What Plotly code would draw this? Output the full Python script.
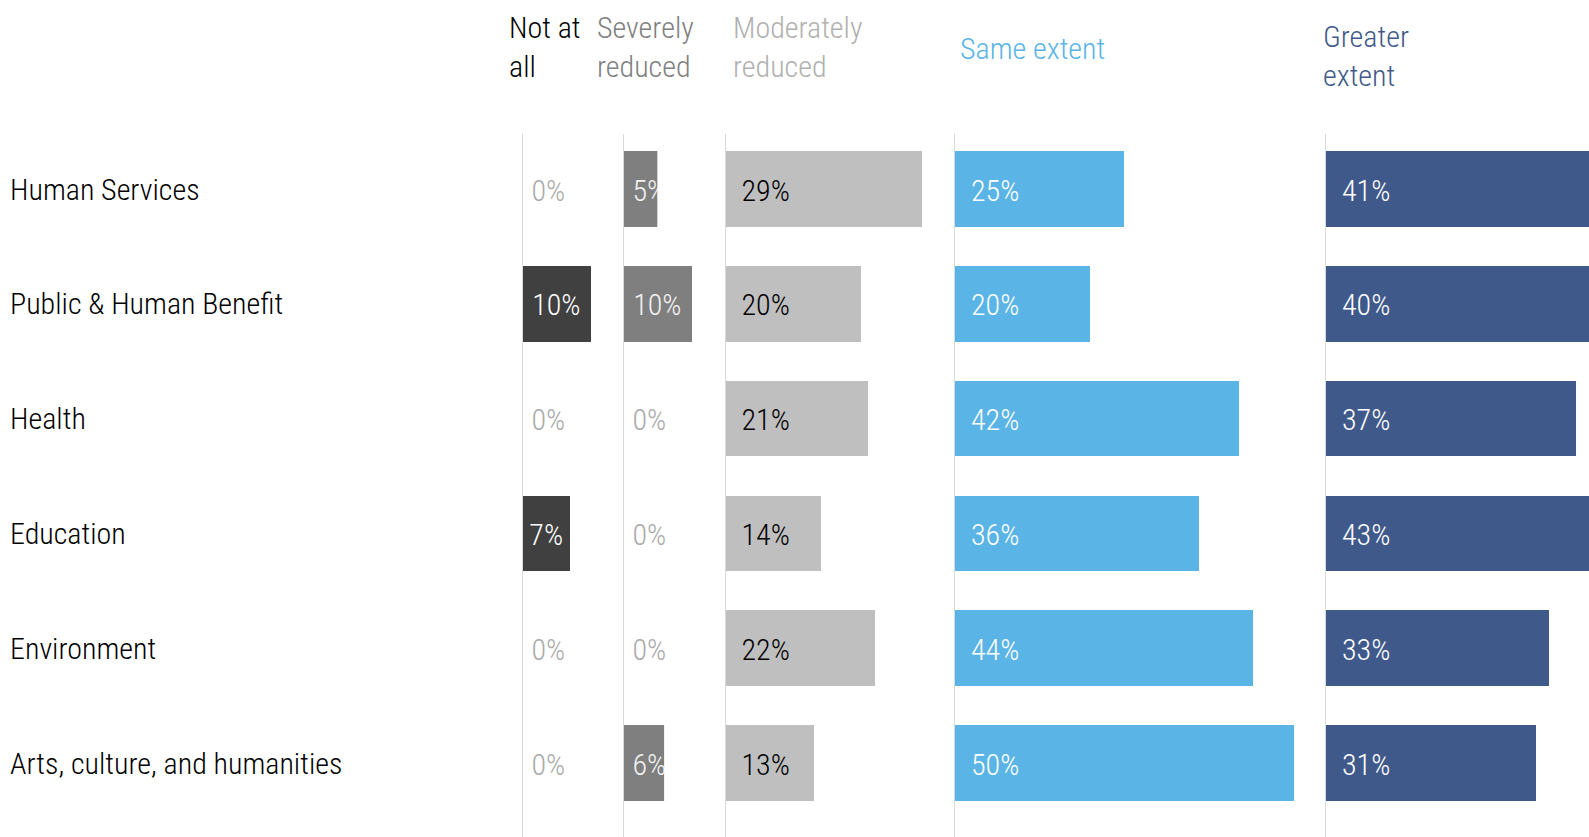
import plotly.graph_objects as go

# Survey: extent to which organisations could operate, by sector
categories = ["Human Services", "Public & Human Benefit", "Health",
              "Education", "Environment", "Arts, culture, and humanities"]

panel_names = ["Not at<br>all", "Severely<br>reduced", "Moderately<br>reduced",
               "Same extent", "Greater<br>extent"]

not_at_all = [0, 10, 0, 7, 0, 0]
severely_reduced = [5, 10, 0, 0, 0, 6]
moderately_reduced = [29, 20, 21, 14, 22, 13]
same_extent = [25, 20, 42, 36, 44, 50]
greater_extent = [41, 40, 37, 43, 33, 31]

series = [not_at_all, severely_reduced, moderately_reduced, same_extent, greater_extent]

# ---- styling -------------------------------------------------------------
W, H = 1589, 837
FONT = "Roboto Condensed, Liberation Sans Narrow, DejaVu Sans Condensed, sans-serif"
WEIGHT = 300
bar_colors = ["#404040", "#7f7f7f", "#bfbfbf", "#5ab4e5", "#3f5a8a"]
label_colors = ["#ffffff", "#f2f2f2", "#000000", "#ffffff", "#ffffff"]
header_colors = ["#000000", "#808080", "#b0b0b0", "#5ab4e5", "#3f5a8a"]
zero_color = "#aaaaaa"
axis_line = "#d9d9d9"

PX_PER_PCT = 6.77                      # shared bar scale across panels
panel_px = [522.5, 623.5, 725.5, 955, 1326]
panel_end_px = [p - 3 for p in panel_px[1:]] + [W]
label_style = ["center", "center", "left", "left", "left"]
label_pad_px = [9, 9, 16, 16, 16]
header_px = [(507, 47), (595, 47), (731, 47), (958, 48.6), (1321, 56)]

plot_top_px = 134
row0_px, row_step_px = 189.0, 114.8
y_top = (plot_top_px - row0_px) / row_step_px
y_bottom = (H - row0_px) / row_step_px
bar_width = 0.66
label_drop = 4 / row_step_px          # nudge value labels down to the bar's optical centre
FS = 30

fig = go.Figure()
shapes = []
annotations = []
layout = {}

for i, vals in enumerate(series):
    n = "" if i == 0 else str(i + 1)
    xa, ya = "x" + n, "y" + n
    xmax = (panel_end_px[i] - panel_px[i]) / PX_PER_PCT

    fig.add_trace(go.Bar(
        x=vals, y=list(range(len(categories))), orientation="h",
        width=bar_width, marker=dict(color=bar_colors[i], line=dict(width=0)),
        xaxis=xa, yaxis=ya, hoverinfo="skip", showlegend=False,
    ))

    # value labels
    pad = label_pad_px[i] / PX_PER_PCT
    xs, txt, pos, cols = [], [], [], []
    for r, v in enumerate(vals):
        txt.append(f"{v}%")
        if v == 0:
            xs.append(pad); pos.append("middle right"); cols.append(zero_color)
        elif label_style[i] == "center" and v >= 7:
            xs.append(v / 2); pos.append("middle center"); cols.append(label_colors[i])
        else:
            xs.append(pad); pos.append("middle right"); cols.append(label_colors[i])
            # labels wider than their bar are cut off at the bar's end
            if label_style[i] == "center":
                shapes.append(dict(type="rect", xref=xa, yref=ya, x0=v, x1=xmax,
                                   y0=r - bar_width / 2, y1=r + bar_width / 2,
                                   fillcolor="white", line=dict(width=0), layer="above"))
    fig.add_trace(go.Scatter(
        x=xs, y=[r + label_drop for r in range(len(categories))], mode="text", text=txt,
        textposition=pos, textfont=dict(family=FONT, size=FS, color=cols, weight=WEIGHT),
        xaxis=xa, yaxis=ya, hoverinfo="skip", showlegend=False, cliponaxis=True,
    ))

    x0p = panel_px[i] / W
    x1p = panel_end_px[i] / W
    layout["xaxis" + n] = dict(domain=[x0p, x1p], range=[0, xmax], anchor=ya,
                               visible=False, fixedrange=True)
    layout["yaxis" + n] = dict(domain=[0, 1 - plot_top_px / H], anchor=xa,
                               range=[y_bottom, y_top], showline=True,
                               linecolor=axis_line, linewidth=1, showgrid=False,
                               zeroline=False, showticklabels=False, ticks="",
                               layer="below traces", fixedrange=True)

    hx, hy = header_px[i]
    annotations.append(dict(text=panel_names[i], xref="paper", yref="paper",
                            x=hx / W, y=1 - hy / H, xanchor="left", yanchor="middle",
                            align="left", showarrow=False,
                            font=dict(family=FONT, size=FS, color=header_colors[i], weight=WEIGHT)))

for r, c in enumerate(categories):
    annotations.append(dict(text=c, xref="paper", yref="y", x=8 / W, y=r,
                            xanchor="left", yanchor="middle", showarrow=False,
                            font=dict(family=FONT, size=FS, color="#000000", weight=WEIGHT)))

fig.update_layout(
    width=W, height=H, margin=dict(l=0, r=0, t=0, b=0),
    paper_bgcolor="white", plot_bgcolor="rgba(0,0,0,0)",
    bargap=0, shapes=shapes, annotations=annotations,
    font=dict(family=FONT), **layout,
)

fig.write_html("out.html", config={"displayModeBar": False})
